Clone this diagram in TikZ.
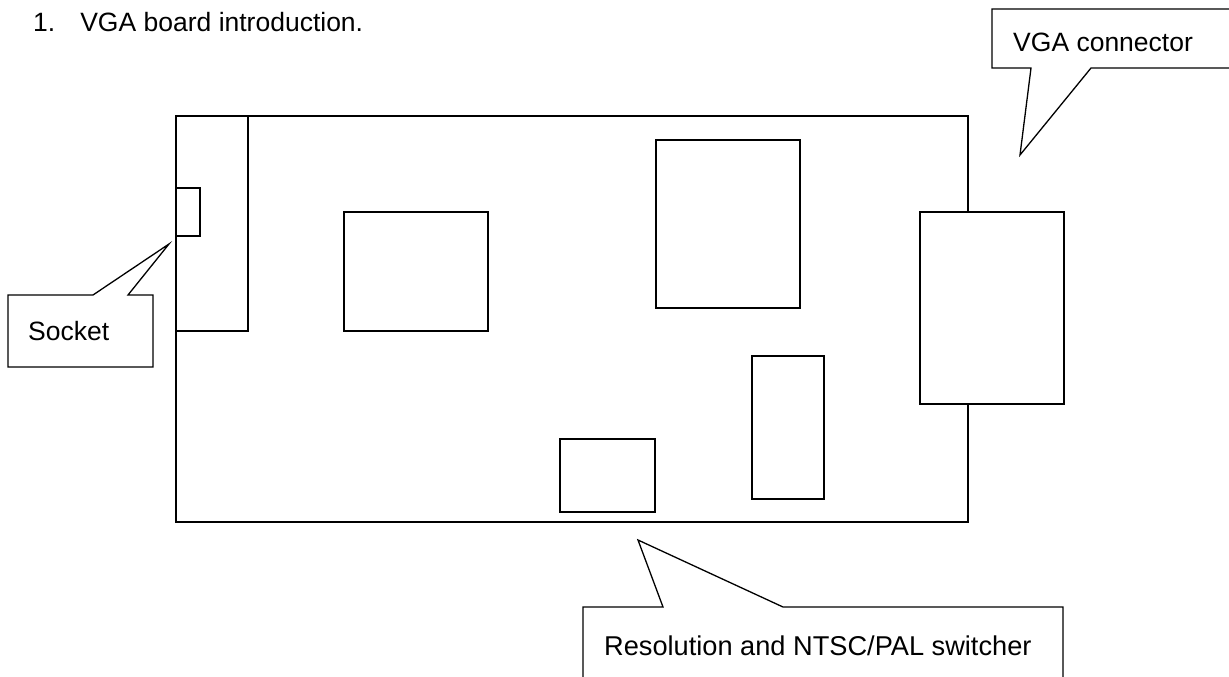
\documentclass[tikz,border=0pt]{standalone}
\usepackage{fontspec}
\setmainfont{Liberation Sans}
\tikzset{
    part/.style={draw,line width=1.3pt,fill=white},
    callout/.style={draw,line width=1.3pt,fill=white,line join=miter},
    lbl/.style={anchor=base west,inner sep=0pt,font=\fontsize{26.5}{31}\selectfont}
}
\begin{document}
\begin{tikzpicture}[x=1pt,y=-1pt]
    \useasboundingbox (0,0) rectangle (1229,677);
    \clip (0,0) rectangle (1229,677);

    % Judul
    \node[lbl] (title) at (33,32) {1.\hspace{25pt}VGA board introduction.};

    % Papan dan komponen
    \draw[part] (176,116) rectangle (968,522);
    \draw[part] (176,116) rectangle (248,331);
    \draw[part] (176,188) rectangle (200,236);
    \draw[part] (344,212) rectangle (488,331);
    \draw[part] (656,140) rectangle (800,308);
    \draw[part] (752,356) rectangle (824,499);
    \draw[part] (560,439) rectangle (655,512);
    \draw[part] (920,212) rectangle (1064,404);

    % Balon keterangan
    \draw[callout] (1240,9) -- (992,9) -- (992,68) -- (1031,68) -- (1020,155)
        -- (1091,68) -- (1240,68);
    \draw[callout] (8,295) -- (93,295) -- (169,244) -- (128,295) -- (153,295)
        -- (153,367) -- (8,367) -- cycle;
    \draw[callout] (583,690) -- (583,607) -- (663,607) -- (638,540) -- (783,607)
        -- (1063,607) -- (1063,690);

    \node[lbl] (vga) at (1013,52) {VGA connector};
    \node[lbl] (socket) at (28,340) {Socket};
    \node[lbl,font=\fontsize{27.2}{32}\selectfont] (switcher) at (604,655)
        {Resolution and NTSC/PAL switcher};
\end{tikzpicture}
\end{document}
